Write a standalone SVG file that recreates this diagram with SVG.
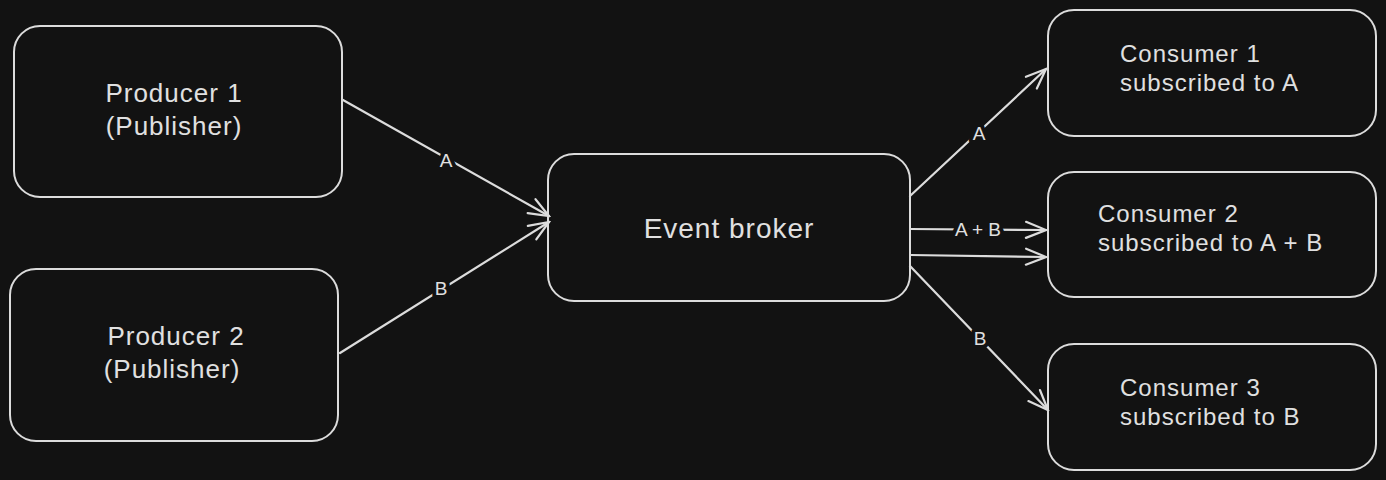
<svg xmlns="http://www.w3.org/2000/svg" width="1386" height="480" viewBox="0 0 1386 480">
<defs>
<style>
.box{fill:#121212;stroke:#dcdcdc;stroke-width:2}
.t{font-family:"Liberation Sans",Arial,sans-serif;font-size:26px;letter-spacing:1px;fill:#e0e0e0}
.s{font-size:24px}
.lbl{font-family:"Liberation Sans",Arial,sans-serif;font-size:19px;fill:#e0e0e0;text-anchor:middle;dominant-baseline:central;stroke:#121212;stroke-width:8px;paint-order:stroke;stroke-linejoin:round}
.c{fill:none;stroke:#dcdcdc;stroke-width:2.2;stroke-linecap:round}
</style>
<marker id="ah" viewBox="0 0 24 20" refX="22" refY="10" markerWidth="24" markerHeight="20" markerUnits="userSpaceOnUse" orient="auto">
<path d="M2 2 L22 10 L2 18" fill="none" stroke="#dcdcdc" stroke-width="2.2" stroke-linecap="round"/>
</marker>
</defs>
<rect width="1386" height="480" fill="#121212"/>
<g id="producer1">
<rect class="box" x="14" y="26" width="328" height="171" rx="26"/>
<text class="t" text-anchor="middle"><tspan x="174" y="102">Producer 1</tspan><tspan x="174" y="135">(Publisher)</tspan></text>
</g>
<g id="producer2">
<rect class="box" x="10" y="269" width="328" height="172" rx="26"/>
<text class="t" text-anchor="middle"><tspan x="176" y="345">Producer 2</tspan><tspan x="172" y="378">(Publisher)</tspan></text>
</g>
<g id="broker">
<rect class="box" x="548" y="154" width="362" height="147" rx="26"/>
<text class="t" text-anchor="middle" x="729" y="238" style="font-size:28px">Event broker</text>
</g>
<g id="consumer1">
<rect class="box" x="1048" y="10" width="328" height="126" rx="26"/>
<text class="t s"><tspan x="1120" y="62">Consumer 1</tspan><tspan x="1120" y="91">subscribed to A</tspan></text>
</g>
<g id="consumer2">
<rect class="box" x="1048" y="172" width="328" height="125" rx="26"/>
<text class="t s"><tspan x="1098" y="222">Consumer 2</tspan><tspan x="1098" y="251">subscribed to A + B</tspan></text>
</g>
<g id="consumer3">
<rect class="box" x="1048" y="344" width="328" height="126" rx="26"/>
<text class="t s"><tspan x="1120" y="396">Consumer 3</tspan><tspan x="1120" y="425">subscribed to B</tspan></text>
</g>
<g id="connectors">
<line class="c" x1="343" y1="100" x2="549" y2="216" marker-end="url(#ah)"/>
<line class="c" x1="340" y1="353" x2="549" y2="222" marker-end="url(#ah)"/>
<line class="c" x1="910" y1="196" x2="1046" y2="69" marker-end="url(#ah)"/>
<line class="c" x1="910" y1="229" x2="1046" y2="230" marker-end="url(#ah)"/>
<line class="c" x1="910" y1="255" x2="1046" y2="257" marker-end="url(#ah)"/>
<line class="c" x1="910" y1="266" x2="1048" y2="410" marker-end="url(#ah)"/>
<text class="lbl" x="446" y="160">A</text>
<text class="lbl" x="441" y="288">B</text>
<text class="lbl" x="979" y="133">A</text>
<text class="lbl" x="978" y="229">A + B</text>
<text class="lbl" x="980" y="338">B</text>
</g>
</svg>
